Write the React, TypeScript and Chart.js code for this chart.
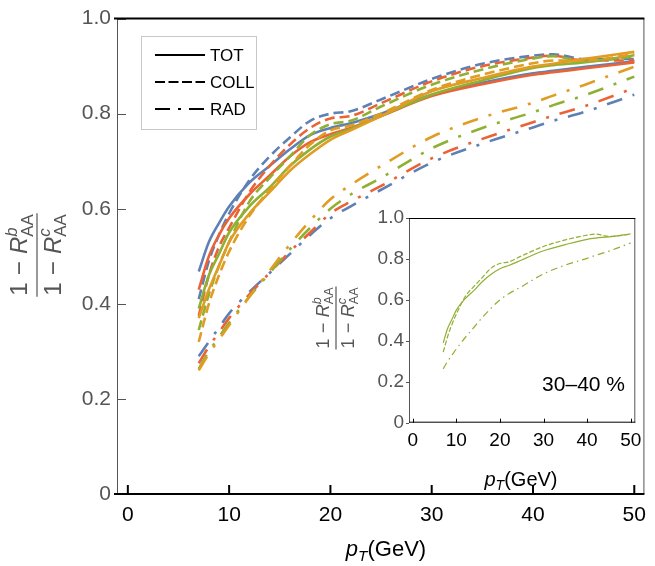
import React, { useEffect, useRef } from "react";
import { Chart, registerables } from "chart.js";

Chart.register(...registerables);

const FONT = '"Liberation Sans", Arial, sans-serif';

// ---------------- data ----------------
const pT = [7, 8, 9, 10, 12, 14, 16, 18, 20, 22, 25, 30, 35, 40, 42, 45, 50];

const totBlue = [0.468, 0.53, 0.57, 0.605, 0.655, 0.69, 0.725, 0.755, 0.77, 0.78, 0.8, 0.84, 0.865, 0.885, 0.89, 0.898, 0.91];
const collBlue = [0.41, 0.49, 0.545, 0.59, 0.66, 0.71, 0.75, 0.785, 0.8, 0.805, 0.83, 0.873, 0.905, 0.922, 0.925, 0.915, 0.915];
const radBlue = [0.29, 0.32, 0.35, 0.38, 0.425, 0.465, 0.505, 0.545, 0.58, 0.605, 0.64, 0.697, 0.737, 0.771, 0.785, 0.803, 0.84];

const totRed = [0.43, 0.5, 0.545, 0.58, 0.63, 0.67, 0.71, 0.74, 0.757, 0.77, 0.795, 0.837, 0.862, 0.882, 0.887, 0.895, 0.908];
const collRed = [0.375, 0.46, 0.52, 0.56, 0.635, 0.69, 0.735, 0.77, 0.79, 0.795, 0.822, 0.868, 0.9, 0.918, 0.922, 0.912, 0.912];
const radRed = [0.275, 0.31, 0.34, 0.37, 0.42, 0.465, 0.51, 0.55, 0.59, 0.615, 0.648, 0.706, 0.747, 0.782, 0.796, 0.815, 0.854];

const totGreen = [0.39, 0.46, 0.505, 0.55, 0.605, 0.645, 0.69, 0.725, 0.752, 0.768, 0.795, 0.84, 0.87, 0.896, 0.902, 0.908, 0.923];
const collGreen = [0.345, 0.42, 0.48, 0.53, 0.615, 0.665, 0.71, 0.755, 0.778, 0.785, 0.815, 0.861, 0.893, 0.916, 0.921, 0.91, 0.92];
const radGreen = [0.263, 0.3, 0.33, 0.36, 0.415, 0.465, 0.515, 0.56, 0.6, 0.63, 0.665, 0.727, 0.77, 0.803, 0.818, 0.838, 0.878];

const totOrange = [0.37, 0.43, 0.48, 0.53, 0.59, 0.635, 0.68, 0.715, 0.745, 0.765, 0.795, 0.847, 0.875, 0.899, 0.905, 0.915, 0.93];
const collOrange = [0.32, 0.4, 0.46, 0.51, 0.585, 0.64, 0.69, 0.735, 0.765, 0.775, 0.8, 0.85, 0.882, 0.906, 0.912, 0.912, 0.925];
const radOrange = [0.26, 0.295, 0.325, 0.355, 0.415, 0.47, 0.525, 0.575, 0.62, 0.65, 0.69, 0.751, 0.792, 0.823, 0.838, 0.86, 0.899];

const seriesColors = ["#5E81B5", "#EB6235", "#8FB032", "#E19C24"];
const styleNames = ["TOT", "COLL", "RAD"];
const xTicks = [0, 10, 20, 30, 40, 50];
const yTicks = [0, 0.2, 0.4, 0.6, 0.8, 1.0];
const insetLabel = "30–40 %";

const seriesTable = [
  [totBlue, collBlue, radBlue],
  [totRed, collRed, radRed],
  [totGreen, collGreen, radGreen],
  [totOrange, collOrange, radOrange],
];
const insetTable = [totGreen, collGreen, radGreen];
const insetColor = seriesColors[2];

const mainDash = [[], [10, 5], [16, 11, 3, 11]];
const insetDash = [[], [5, 2], [7, 4, 1.5, 4]];
const legendDash = [[], [10, 3.5], [15, 8, 3, 8]];

// ---------------- text helpers ----------------
type Seg = { t: string; s: number; it?: boolean; dy?: number; stack?: boolean; pad?: number };
const fontOf = (g: Seg) => `${g.it ? "italic " : ""}${g.s}px ${FONT}`;

function measureSegs(ctx: CanvasRenderingContext2D, segs: Seg[]) {
  let x = 0, pend = 0;
  for (const g of segs) {
    ctx.font = fontOf(g);
    const w = ctx.measureText(g.t).width;
    const p = g.pad || 0;
    if (g.stack) pend = Math.max(pend, w);
    else { x += Math.max(w, pend) + 2 * p; pend = 0; }
  }
  return x + pend;
}
function drawSegs(ctx: CanvasRenderingContext2D, segs: Seg[], x0: number, y0: number) {
  let x = x0, pend = 0;
  ctx.textAlign = "left";
  ctx.textBaseline = "alphabetic";
  for (const g of segs) {
    ctx.font = fontOf(g);
    const w = ctx.measureText(g.t).width;
    const p = g.pad || 0;
    ctx.fillText(g.t, x + p, y0 + (g.dy || 0));
    if (g.stack) pend = Math.max(pend, w);
    else { x += Math.max(w, pend) + 2 * p; pend = 0; }
  }
}
function ratioSegs(s: number, sup: string): Seg[] {
  return [
    { t: "1", s },
    { t: "−", s, pad: s * 0.3 },
    { t: "R", s, it: true },
    { t: sup, s: s * 0.7, it: true, dy: -s * 0.42, stack: true },
    { t: "AA", s: s * 0.7, dy: s * 0.22 },
  ];
}
function drawFraction(ctx: CanvasRenderingContext2D, cx: number, cy: number, s: number, color: string) {
  ctx.save();
  ctx.translate(cx, cy);
  ctx.rotate(-Math.PI / 2);
  ctx.fillStyle = color;
  ctx.strokeStyle = color;
  const num = ratioSegs(s, "b");
  const den = ratioSegs(s, "c");
  const wn = measureSegs(ctx, num);
  const wd = measureSegs(ctx, den);
  const w = Math.max(wn, wd);
  drawSegs(ctx, num, -wn / 2, -s * 0.4);
  drawSegs(ctx, den, -wd / 2, s * 0.98);
  ctx.lineWidth = 1.2;
  ctx.beginPath();
  ctx.moveTo(-w / 2 - 1, 0);
  ctx.lineTo(w / 2 + 1, 0);
  ctx.stroke();
  ctx.restore();
}
function drawPtTitle(ctx: CanvasRenderingContext2D, cx: number, base: number, s: number, color: string) {
  const segs: Seg[] = [
    { t: "p", s, it: true },
    { t: "T", s: s * 0.7, it: true, dy: s * 0.22 },
    { t: "(GeV)", s },
  ];
  ctx.fillStyle = color;
  const w = measureSegs(ctx, segs);
  drawSegs(ctx, segs, cx - w / 2, base);
}
function seg(ctx: CanvasRenderingContext2D, x1: number, y1: number, x2: number, y2: number) {
  ctx.beginPath();
  ctx.moveTo(x1, y1);
  ctx.lineTo(x2, y2);
  ctx.stroke();
}

// ---------------- plugins ----------------
const mainDecor = {
  id: "mainDecor",
  afterDraw(chart: any) {
    const { ctx, chartArea: a, scales } = chart;
    const xs = scales.x, ys = scales.y;
    ctx.save();
    ctx.strokeStyle = "#555";
    ctx.lineWidth = 1;
    seg(ctx, a.left + 0.5, a.top, a.left + 0.5, a.bottom);
    seg(ctx, a.right - 0.5, a.top, a.right - 0.5, a.bottom);
    for (const v of yTicks) {
      const py = Math.round(ys.getPixelForValue(v)) + 0.5;
      seg(ctx, a.left, py, a.left + 9, py);
    }
    ctx.strokeStyle = "#000";
    ctx.lineWidth = 2;
    seg(ctx, a.left - 3, a.top, a.right, a.top);
    seg(ctx, a.left - 3, a.bottom, a.right, a.bottom);
    for (const v of xTicks) {
      const px = xs.getPixelForValue(v);
      seg(ctx, px, a.bottom, px, a.bottom - 9);
    }
    // legend
    ctx.strokeStyle = "#c8c8c8";
    ctx.lineWidth = 1;
    ctx.strokeRect(141.5, 36.5, 115, 93);
    const ly = [55, 82, 109];
    styleNames.forEach((name, i) => {
      ctx.strokeStyle = "#000";
      ctx.lineWidth = 2;
      ctx.setLineDash(legendDash[i]);
      seg(ctx, 155, ly[i], 205, ly[i]);
      ctx.setLineDash([]);
      ctx.fillStyle = "#000";
      ctx.font = `17px ${FONT}`;
      ctx.textAlign = "left";
      ctx.textBaseline = "middle";
      ctx.fillText(name, 210, ly[i] + 1);
    });
    drawPtTitle(ctx, 386, 556, 22, "#000");
    drawFraction(ctx, 37, 255, 24, "#555");
    ctx.restore();
  },
};

const insetDecor = {
  id: "insetDecor",
  afterDraw(chart: any) {
    const { ctx, chartArea: a, scales } = chart;
    const xs = scales.x, ys = scales.y;
    ctx.save();
    ctx.strokeStyle = "#555";
    ctx.lineWidth = 1;
    seg(ctx, a.left + 0.5, a.top, a.left + 0.5, a.bottom);
    seg(ctx, a.right - 0.5, a.top, a.right - 0.5, a.bottom);
    for (const v of yTicks) {
      const py = Math.round(ys.getPixelForValue(v)) + 0.5;
      seg(ctx, a.left - 3, py, a.left, py);
    }
    ctx.strokeStyle = "#000";
    ctx.lineWidth = 1;
    seg(ctx, a.left, a.top + 0.5, a.right, a.top + 0.5);
    seg(ctx, a.left, a.bottom - 0.5, a.right, a.bottom - 0.5);
    for (const v of xTicks) {
      const px = Math.round(xs.getPixelForValue(v)) + 0.5;
      seg(ctx, px, a.bottom, px, a.bottom - 4);
    }
    ctx.fillStyle = "#000";
    ctx.font = `21px ${FONT}`;
    ctx.textAlign = "right";
    ctx.textBaseline = "alphabetic";
    ctx.fillText(insetLabel, 625, 391);
    drawPtTitle(ctx, 521, 486, 20, "#000");
    drawFraction(ctx, 336, 318, 18, "#555");
    ctx.restore();
  },
};

function axisX(min: number, max: number, height: number, size: number, pad: number) {
  return {
    type: "linear" as const,
    min,
    max,
    afterBuildTicks: (s: any) => { s.ticks = xTicks.map((v) => ({ value: v })); },
    afterFit: (s: any) => { s.height = height; },
    grid: { display: false, drawTicks: false },
    border: { display: false },
    ticks: {
      color: "#000",
      font: { family: FONT, size },
      padding: pad,
      maxRotation: 0,
      autoSkip: false,
      callback: (v: any) => String(v),
    },
  };
}
function axisY(width: number, size: number, pad: number) {
  return {
    type: "linear" as const,
    min: 0,
    max: 1,
    afterBuildTicks: (s: any) => { s.ticks = yTicks.map((v) => ({ value: v })); },
    afterFit: (s: any) => { s.width = width; },
    grid: { display: false, drawTicks: false },
    border: { display: false },
    ticks: {
      color: "#555",
      font: { family: FONT, size },
      padding: pad,
      autoSkip: false,
      callback: (v: any) => (v === 0 ? "0" : Number(v).toFixed(1)),
    },
  };
}

export default function App() {
  const mainRef = useRef<HTMLCanvasElement>(null);
  const insetRef = useRef<HTMLCanvasElement>(null);

  useEffect(() => {
    const mainSets: any[] = [];
    seriesTable.forEach((styles, ci) => {
      styles.forEach((vals, si) => {
        mainSets.push({
          label: `${styleNames[si]} ${ci}`,
          data: pT.map((x, i) => ({ x, y: vals[i] })),
          borderColor: seriesColors[ci],
          borderWidth: 2.6,
          borderDash: mainDash[si],
          borderCapStyle: "butt",
          pointRadius: 0,
          fill: false,
          cubicInterpolationMode: "monotone",
          order: 3 - ci,
        });
      });
    });
    const main = new Chart(mainRef.current!, {
      type: "line",
      data: { datasets: mainSets },
      options: {
        responsive: false,
        animation: false,
        events: [],
        layout: { padding: { left: 0, right: 2, top: 11, bottom: 0 } },
        plugins: { legend: { display: false }, tooltip: { enabled: false } },
        scales: { x: axisX(-1.07, 51, 72, 21, 9), y: axisY(117, 21, 6) },
      },
      plugins: [mainDecor],
    });

    const insetSets = insetTable.map((vals, si) => ({
      label: styleNames[si],
      data: pT.map((x, i) => ({ x, y: vals[i] })),
      borderColor: insetColor,
      borderWidth: 1.2,
      borderDash: insetDash[si],
      pointRadius: 0,
      fill: false,
      cubicInterpolationMode: "monotone",
    }));
    const inset = new Chart(insetRef.current!, {
      type: "line",
      data: { datasets: insetSets as any },
      options: {
        responsive: false,
        animation: false,
        events: [],
        layout: { padding: { left: 0, right: 19.7, top: 218, bottom: 0 } },
        plugins: { legend: { display: false }, tooltip: { enabled: false } },
        scales: { x: axisX(-0.85, 51.05, 143.3, 19, 7), y: axisY(409, 19, 5) },
      },
      plugins: [insetDecor],
    });
    return () => {
      main.destroy();
      inset.destroy();
    };
  }, []);

  return (
    <div style={{ position: "fixed", left: 0, top: 0, width: 655, height: 566, background: "#fff" }}>
      <canvas ref={mainRef} width={655} height={566} style={{ position: "absolute", left: 0, top: 0 }} />
      <canvas ref={insetRef} width={655} height={566} style={{ position: "absolute", left: 0, top: 0 }} />
    </div>
  );
}
